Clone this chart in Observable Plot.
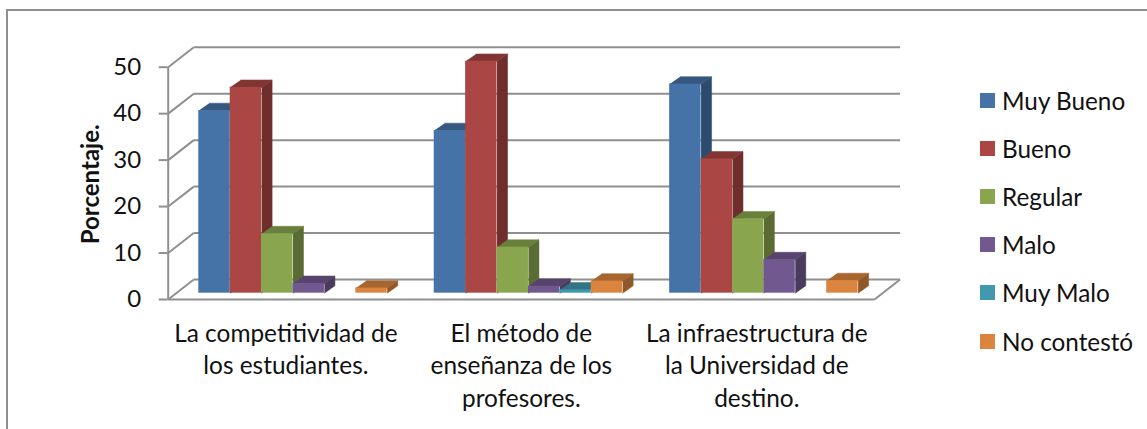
<!DOCTYPE html>
<html lang="es">
<head>
<meta charset="utf-8">
<script src="https://cdn.jsdelivr.net/npm/d3@7"></script>
<script src="https://cdn.jsdelivr.net/npm/@observablehq/plot@0.6"></script>
<style>
  html, body { margin: 0; padding: 0; background: #fff; }
  #chart { position: relative; width: 1147px; height: 429px; overflow: hidden; font-family: Lato, sans-serif; color: #111; }
  #border { position: absolute; left: 6px; top: 9px; right: -4px; bottom: -4px; border-left: 2px solid #8f8f8f; border-top: 2px solid #8f8f8f; }
  #legend { position: absolute; left: 980px; top: 76.5px; }
  .row { display: flex; align-items: center; height: 48.1px; font-size: 24.3px; white-space: nowrap; }
  .sw { width: 15px; height: 15px; margin-right: 7px; }
  svg { position: absolute; left: 0; top: 0; }
</style>
</head>
<body>
<div id="chart"><div id="border"></div><div id="legend"></div></div>
<script>
const categories = [
  "La competitividad de\nlos estudiantes.",
  "El método de\nenseñanza de los\nprofesores.",
  "La infraestructura de\nla Universidad de\ndestino."
];
const series = ["Muy Bueno", "Bueno", "Regular", "Malo", "Muy Malo", "No contestó"];
const muyBueno = [39.3, 35, 45];
const bueno = [44.3, 49.9, 28.9];
const regular = [12.8, 9.9, 16];
const malo = [2.1, 1.5, 7.2];
const muyMalo = [0, 0.7, 0];
const noContesto = [1.1, 2.6, 2.7];
const yTicks = [0, 10, 20, 30, 40, 50];

const frontColors = ["#4572a7", "#aa4643", "#89a54e", "#71588f", "#4198af", "#db843d"];
const sideColors = ["#2d4b6e", "#6f2e2c", "#5a6c33", "#4a3a5e", "#2b6473", "#905728"];
const topColors = ["#355780", "#823634", "#69803c", "#56436e", "#327485", "#a76530"];
const allValues = [muyBueno, bueno, regular, malo, muyMalo, noContesto];

// Layout of the pseudo-3D box, in data units
const floorDX = 0.1087, floorDY = 4.3;   // wall depth
const barDX = 0.0446, barDY = 1.6;       // bar depth
const barW = 0.1334, padX = 0.13, baseY = 1.36;

const bars = [];
categories.forEach((c, i) => series.forEach((s, j) => {
  const v = allValues[j][i];
  if (v > 0) {
    const x1 = i + padX + j * barW, x2 = x1 + barW;
    bars.push({id: `${i}-${j}`, x1, x2, y1: baseY, y2: baseY + v, j});
  }
}));
const side = bars.flatMap(b => [
  [b.x2, b.y1], [b.x2 + barDX, b.y1 + barDY], [b.x2 + barDX, b.y2 + barDY], [b.x2, b.y2]
].map(([x, y]) => ({id: b.id, x, y, color: sideColors[b.j]})));
const top_ = bars.flatMap(b => [
  [b.x1, b.y2], [b.x2, b.y2], [b.x2 + barDX, b.y2 + barDY], [b.x1 + barDX, b.y2 + barDY]
].map(([x, y]) => ({id: b.id, x, y, color: topColors[b.j]})));

const gridStyle = {stroke: "#8f8f8f", strokeWidth: 2};
const n = categories.length;

const plot = Plot.plot({
  width: 1147, height: 429,
  marginLeft: 167.7, marginRight: 273, marginTop: 66.7, marginBottom: 130,
  x: {domain: [0, n], axis: null},
  y: {domain: [0, 50], label: null},
  color: {type: "identity"},
  style: {fontFamily: "Lato, sans-serif", background: "transparent", color: "#111"},
  marks: [
    // back wall and floor
    Plot.link(yTicks, {x1: floorDX, x2: n + floorDX, y1: d => d + floorDY, y2: d => d + floorDY, ...gridStyle}),
    Plot.link(yTicks, {x1: 0, x2: floorDX, y1: d => d, y2: d => d + floorDY, ...gridStyle}),
    Plot.link([0], {x1: n, x2: n + floorDX, y1: 0, y2: floorDY, ...gridStyle}),
    Plot.link([0], {x1: 0, x2: n, y1: 0, y2: 0, ...gridStyle}),
    Plot.link([0], {x1: 0, x2: 0, y1: 0, y2: 50, ...gridStyle}),
    Plot.axisY({ticks: yTicks, tickSize: 9, tickPadding: 18, fontSize: 24, stroke: "#8f8f8f", strokeWidth: 2, fill: "#111", label: null}),
    // bars
    Plot.line(side, {x: "x", y: "y", z: "id", fill: "color", stroke: "color", strokeWidth: 0.5}),
    Plot.line(top_, {x: "x", y: "y", z: "id", fill: "color", stroke: "color", strokeWidth: 0.5}),
    Plot.rect(bars, {x1: "x1", x2: "x2", y1: "y1", y2: "y2", fill: d => frontColors[d.j], inset: 0}),
    // category labels
    Plot.text(categories, {
      x: (d, i) => i + 0.5, y: 0, text: d => d,
      fontSize: 24.4, lineHeight: 1.34, textAnchor: "middle", lineAnchor: "top", dy: 19, fill: "#111"
    }),
    // y axis title
    Plot.text(["Porcentaje."], {
      x: -0.3284, y: 24.8, text: d => d, rotate: -90,
      fontSize: 24, fontWeight: "bold", textAnchor: "middle", fill: "#111"
    })
  ]
});
document.getElementById("chart").appendChild(plot);

const legend = d3.select("#legend");
series.forEach((s, j) => {
  const row = legend.append("div").attr("class", "row");
  row.append("div").attr("class", "sw").style("background", frontColors[j]);
  row.append("span").text(s);
});
</script>
</body>
</html>
